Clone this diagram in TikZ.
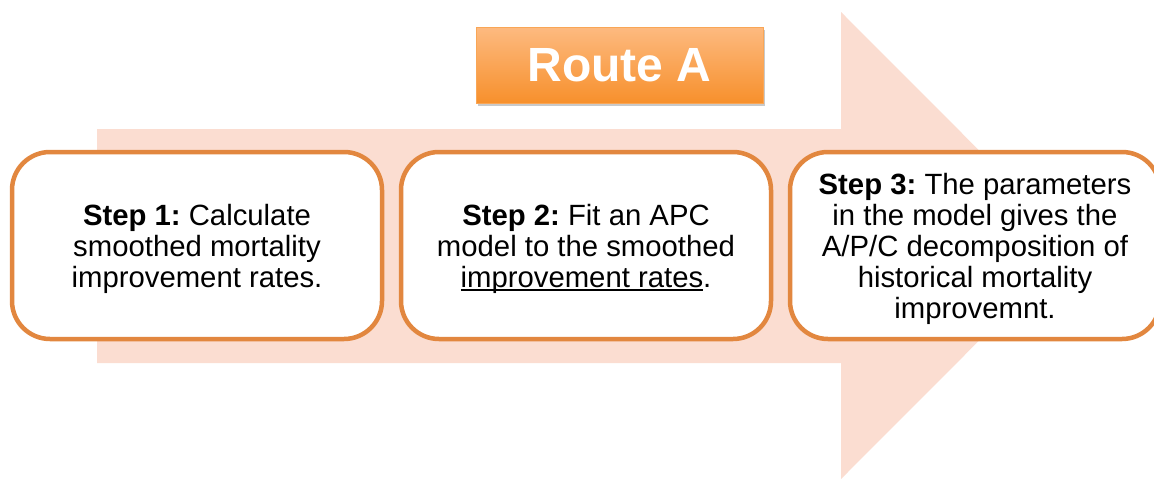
\documentclass[tikz,border=0pt]{standalone}
\usepackage{fontspec}
\setmainfont{Liberation Sans}
\usetikzlibrary{shadows}
\definecolor{arrowfill}{HTML}{FBDDD1}
\definecolor{boxline}{HTML}{E2873F}
\definecolor{routetop}{HTML}{FDBA80}
\definecolor{routebot}{HTML}{F7902C}
\newcommand\myul[1]{\setbox0\hbox{#1}\rlap{\rule[-4pt]{\wd0}{1.8pt}}\box0}
\tikzset{
  stepbox/.style={draw=boxline, line width=4.5pt, fill=white, rounded corners=38pt,
    minimum width=370pt, minimum height=187pt, inner sep=0pt},
  steptext/.style={inner sep=0pt, align=center, yshift=-3pt,
    font=\fontsize{29.3}{31}\selectfont\frenchspacing},
  routebox/.style={draw=routebot!80!white, line width=0.6pt, top color=routetop, bottom color=routebot,
    minimum width=287pt, minimum height=76pt, inner sep=0pt, text=white,
    font=\fontsize{48}{50}\selectfont\bfseries,
    drop shadow={shadow xshift=2pt, shadow yshift=-3pt, opacity=0.3, fill=black!70}},
}
\begin{document}
\begin{tikzpicture}[x=1pt,y=-1pt]
\useasboundingbox (0,0) rectangle (1154,479);
\clip (0,0) rectangle (1154,479);
% big arrow
\fill[arrowfill] (97,129) -- (841,129) -- (841,12) -- (1074,245.5) -- (841,479) -- (841,363) -- (97,363) -- cycle;
% route
\node[routebox] (route) at (619.5,65) {Route A};
% steps
\node[stepbox] (s1) at (197,245.5) {};
\node[stepbox] (s2) at (586,245.5) {};
\node[stepbox] (s3) at (975,245.5) {};
\node[steptext] (t1) at (s1.center) {\textbf{Step 1:} Calculate\\smoothed mortality\\improvement rates.};
\node[steptext] (t2) at (s2.center) {\textbf{Step 2:} Fit an APC\\model to the smoothed\\\myul{improvement rates}.};
\node[steptext] (t3) at (s3.center) {\textbf{Step 3:} The parameters\\in the model gives the\\A/P/C decomposition of\\historical mortality\\improvemnt.};
\end{tikzpicture}
\end{document}
